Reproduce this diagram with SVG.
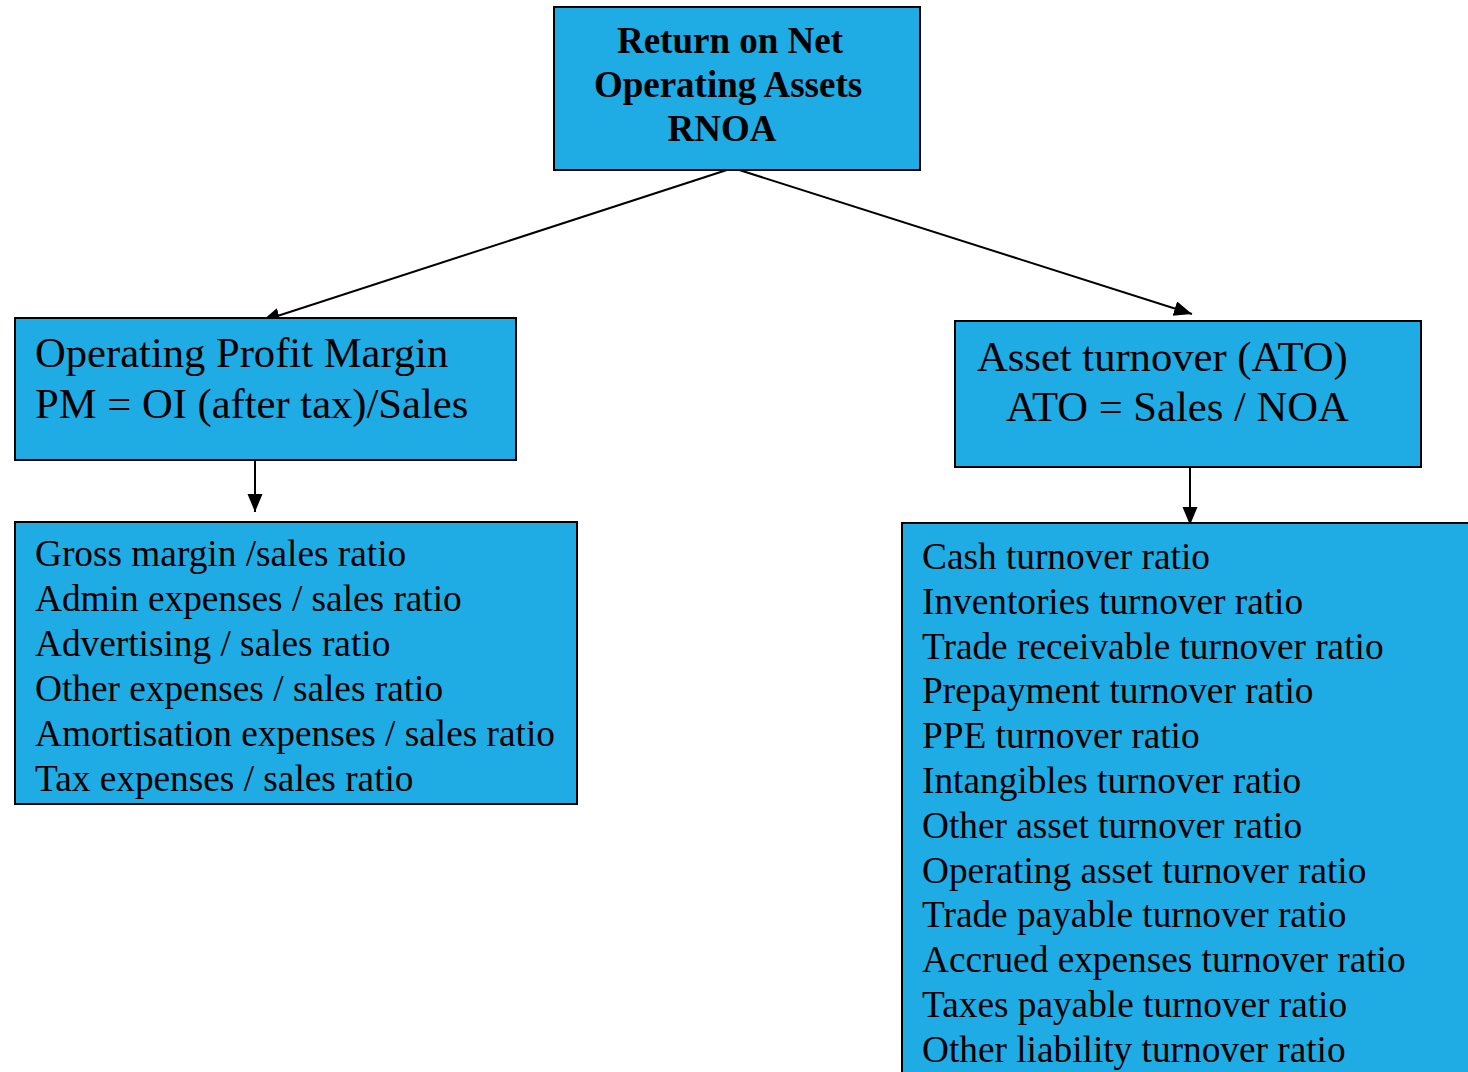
<svg xmlns="http://www.w3.org/2000/svg" width="1468" height="1072" viewBox="0 0 1468 1072">
<style>
.box{fill:#1fabe3;stroke:#000;stroke-width:2}
.t{font-family:"Liberation Serif","Times New Roman",serif;fill:#000}
.title{font-size:37px;font-weight:bold;text-anchor:middle}
.mid{font-size:42.6px}
.lst{font-size:37.3px}
.conn{stroke:#000;stroke-width:2;fill:none}
</style>
<defs>
<marker id="ah" markerUnits="userSpaceOnUse" markerWidth="20" markerHeight="16" refX="18" refY="7.5" orient="auto">
<path d="M0,0 L18,7.5 L0,15 z" fill="#000"/>
</marker>
</defs>
<rect width="1468" height="1072" fill="#fff"/>
<g id="connectors">
<line class="conn" x1="733" y1="168" x2="262" y2="321" marker-end="url(#ah)"/>
<line class="conn" x1="733" y1="168" x2="1192" y2="314" marker-end="url(#ah)"/>
<line class="conn" x1="255" y1="461" x2="255" y2="512" marker-end="url(#ah)"/>
<line class="conn" x1="1190" y1="468" x2="1190" y2="525" marker-end="url(#ah)"/>
</g>
<g id="rnoa">
<rect class="box" x="554" y="7" width="366" height="163"/>
<text class="t title" x="730" y="53">Return on Net</text>
<text class="t title" x="728" y="97">Operating Assets</text>
<text class="t title" x="722" y="141">RNOA</text>
</g>
<g id="pm">
<rect class="box" x="15" y="318" width="501" height="142"/>
<text class="t mid" x="35" y="367">Operating Profit Margin</text>
<text class="t mid" x="35" y="418">PM = OI (after tax)/Sales</text>
</g>
<g id="ato">
<rect class="box" x="955" y="321" width="466" height="146"/>
<text class="t mid" x="977" y="371">Asset turnover (ATO)</text>
<text class="t mid" x="1006" y="421">ATO = Sales / NOA</text>
</g>
<g id="pm-ratios">
<rect class="box" x="15" y="522" width="562" height="282"/>
<text class="t lst" x="35" y="566">Gross margin /sales ratio</text>
<text class="t lst" x="35" y="611">Admin expenses / sales ratio</text>
<text class="t lst" x="35" y="656">Advertising / sales ratio</text>
<text class="t lst" x="35" y="701">Other expenses / sales ratio</text>
<text class="t lst" x="35" y="746">Amortisation expenses / sales ratio</text>
<text class="t lst" x="35" y="791">Tax expenses / sales ratio</text>
</g>
<g id="ato-ratios">
<rect class="box" x="902" y="523" width="620" height="600"/>
<text class="t lst" x="922" y="569">Cash turnover ratio</text>
<text class="t lst" x="922" y="614">Inventories turnover ratio</text>
<text class="t lst" x="922" y="659">Trade receivable turnover ratio</text>
<text class="t lst" x="922" y="703">Prepayment turnover ratio</text>
<text class="t lst" x="922" y="748">PPE turnover ratio</text>
<text class="t lst" x="922" y="793">Intangibles turnover ratio</text>
<text class="t lst" x="922" y="838">Other asset turnover ratio</text>
<text class="t lst" x="922" y="883">Operating asset turnover ratio</text>
<text class="t lst" x="922" y="927">Trade payable turnover ratio</text>
<text class="t lst" x="922" y="972">Accrued expenses turnover ratio</text>
<text class="t lst" x="922" y="1017">Taxes payable turnover ratio</text>
<text class="t lst" x="922" y="1062">Other liability turnover ratio</text>
</g>
</svg>
